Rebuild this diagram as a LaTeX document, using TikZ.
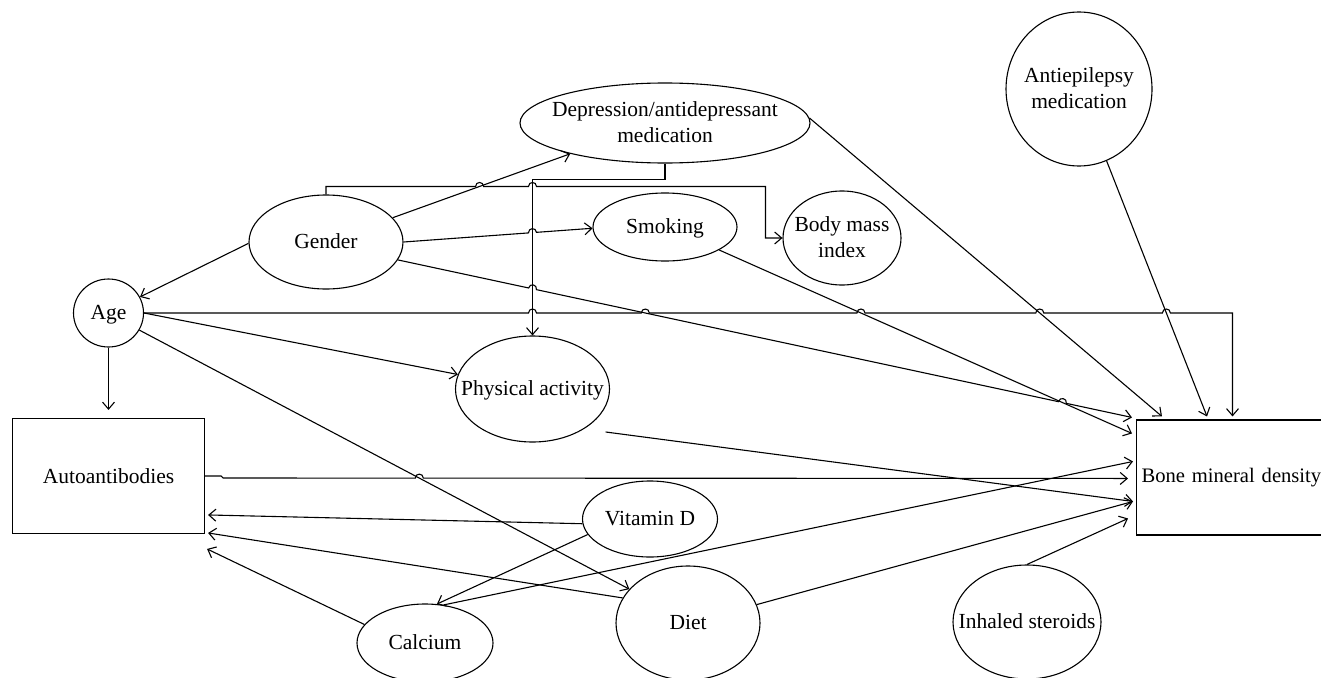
\documentclass[tikz,border=0pt]{standalone}
\usepackage{fontspec}
\setmainfont{Liberation Serif}
\usetikzlibrary{shapes.geometric,arrows.meta,calc}
\newcommand\zt[1]{\makebox[0pt]{\smash{\raisebox{-0.3em}{\begin{tabular}{@{}c@{}}#1\end{tabular}}}}}
\newcommand\hp[3]{-- ($(#2)!4pt!(#1)$) .. controls ($(#2)!4pt!(#1)!5.3pt!90:(#2)$) and ($(#2)!4pt!(#3)!5.3pt!-90:(#2)$) .. ($(#2)!4pt!(#3)$)}
\begin{document}
\begin{tikzpicture}[x=1pt,y=-1pt,line width=1.1pt,
  font=\fontsize{21.5}{26}\selectfont,
  ell/.style={ellipse,draw,inner sep=0pt},
  arr/.style={-{Straight Barb[length=7pt,width=12pt]}}]
\useasboundingbox (0,0) rectangle (1321,677);
\clip (0,0) rectangle (1321,677);
% nodes
\node[ell,minimum width=290pt,minimum height=80pt] (dep) at (665,123) {\zt{Depression/antidepressant\\medication}};
\node[ell,minimum width=146pt,minimum height=154pt] (antiep) at (1079,89) {\zt{Antiepilepsy\\medication}};
\node[ell,minimum width=154pt,minimum height=94pt] (gender) at (326,242) {\zt{Gender}};
\node[ell,minimum width=144pt,minimum height=68pt] (smoking) at (665,227) {\zt{Smoking}};
\node[ell,minimum width=118pt,minimum height=94pt] (bmi) at (842,238) {\zt{Body mass\\index}};
\node[ell,minimum width=70pt,minimum height=68pt] (age) at (108.5,313) {\zt{Age}};
\node[ell,minimum width=154pt,minimum height=106pt] (pa) at (532.5,389) {\zt{Physical activity}};
\node[draw,rectangle,minimum width=192pt,minimum height=115pt,inner sep=0pt] (auto) at (108.5,476) {Autoantibodies};
\node[draw,rectangle,anchor=west,minimum height=115pt,text width=197pt,inner xsep=5pt,inner ysep=0pt,align=left,font=\fontsize{20.6}{26}\selectfont] (bmd) at (1136,477.5) {Bone mineral density};
\node[ell,minimum width=135pt,minimum height=76pt] (vitd) at (650,519) {\zt{Vitamin D}};
\node[ell,minimum width=144pt,minimum height=114pt] (diet) at (688,623) {\zt{Diet}};
\node[ell,minimum width=136pt,minimum height=78pt] (calc) at (425,643) {\zt{Calcium}};
\node[ell,minimum width=148pt,minimum height=114pt] (inh) at (1027,622) {\zt{Inhaled steroids}};
% end points on boxes
\coordinate (e6) at ([shift={(-4,-2)}]bmd.north west);
\coordinate (e7) at ([shift={(-4,14)}]bmd.north west);
\coordinate (e8) at ([shift={(26,-3)}]bmd.north west);
\coordinate (e9) at ([shift={(71,-3)}]bmd.north west);
\coordinate (e10) at ([shift={(96.5,-3)}]bmd.north west);
\coordinate (e17) at ([shift={(-3,42)}]bmd.north west);
\coordinate (e18) at ([shift={(-8,59)}]bmd.north west);
\coordinate (e14) at ([shift={(-3,82)}]bmd.north west);
\coordinate (e16) at ([shift={(-8,99)}]bmd.north west);
\coordinate (e19) at ([shift={(3,97)}]auto.north east);
\coordinate (e20) at ([shift={(3,115)}]auto.north east);
\coordinate (e21) at ([shift={(2,131)}]auto.north east);
% start points
\coordinate (g1s) at (gender.20.7);
\coordinate (g1e) at (dep.-162.3);
\coordinate (s4) at (gender.east);
\coordinate (t4) at (smoking.181.5);
\coordinate (s6) at (gender.-14);
\coordinate (s7) at (smoking.-23.9);
\coordinate (s8) at (dep.2.4);
\coordinate (s9) at (antiep.-69.3);
\coordinate (s13) at (age.-29.2);
\coordinate (t13) at (diet.150.2);
% Gender -> Depression
\draw[arr] (g1s) -- (g1e);
% Depression -> Physical activity
\coordinate (dv1) at ([yshift=-16pt]dep.south);
\coordinate (dv2) at (pa.north |- dv1);
\draw[arr] (dep.south) -- (dv1) -- (dv2) -- (pa.north);
% Gender -> Body mass index
\coordinate (gb1) at ([yshift=8pt]gender.north);
\coordinate (gb2) at ([xshift=-17pt]bmi.west |- gb1);
\coordinate (gb3) at (gb2 |- bmi.west);
\coordinate (h1) at (intersection of g1s--g1e and gb1--gb2);
\coordinate (h2) at (dv2 |- gb1);
\draw[arr] (gender.north) -- (gb1) \hp{gb1}{h1}{gb2} \hp{gb1}{h2}{gb2} -- (gb2) -- (gb3) -- (bmi.west);
% Gender -> Smoking
\coordinate (h3) at (intersection of s4--t4 and dv2--pa.north);
\draw[arr] (s4) \hp{s4}{h3}{t4} -- (t4);
% Gender -> Age
\draw[arr] (gender.181) -- (age.27);
% Gender -> BMD
\coordinate (h4) at (intersection of s6--e6 and dv2--pa.north);
\coordinate (h5) at (intersection of s6--e6 and s7--e7);
\draw[arr] (s6) \hp{s6}{h4}{e6} \hp{s6}{h5}{e6} -- (e6);
% Smoking, Depression, Antiepilepsy -> BMD
\draw[arr] (s7) -- (e7);
\draw[arr] (s8) -- (e8);
\draw[arr] (s9) -- (e9);
% Age -> BMD
\coordinate (ac) at (e10 |- age.east);
\coordinate (h6) at (dv2 |- age.east);
\coordinate (h7) at (intersection of age.east--ac and s6--e6);
\coordinate (h8) at (intersection of age.east--ac and s7--e7);
\coordinate (h9) at (intersection of age.east--ac and s8--e8);
\coordinate (h10) at (intersection of age.east--ac and s9--e9);
\draw[arr] (age.east) \hp{age.east}{h6}{ac} \hp{age.east}{h7}{ac} \hp{age.east}{h8}{ac} \hp{age.east}{h9}{ac} \hp{age.east}{h10}{ac} -- (ac) -- (e10);
% Age -> others
\draw[arr,shorten >=8pt] (age.south) -- (auto.north);
\draw[arr] (age.east) -- (pa.169.7);
\draw[arr] (s13) -- (t13);
% -> BMD from below
\draw[arr,shorten <=22pt] (pa.-38) -- (e14);
\draw[arr] (diet.15.2) -- (e14);
\draw[arr] (inh.north) -- (e16);
\draw[arr] (calc.64.7) -- (e17);
% Autoantibodies -> BMD
\coordinate (a1) at ([xshift=16pt]auto.east);
\coordinate (a2) at ([shift={(18,2)}]auto.east);
\coordinate (h11) at (intersection of s13--t13 and a2--e18);
\draw[arr] (auto.east) -- (a1) -- (a2) \hp{a2}{h11}{e18} -- (e18);
% -> Autoantibodies
\draw[arr] (vitd.184.3) -- (e19);
\draw[arr] (diet.159.8) -- (e20);
\draw[arr] (calc.163.8) -- (e21);
% Vitamin D -> Calcium
\draw[arr] (vitd.194.8) -- (calc.73.3);
\end{tikzpicture}
\end{document}
